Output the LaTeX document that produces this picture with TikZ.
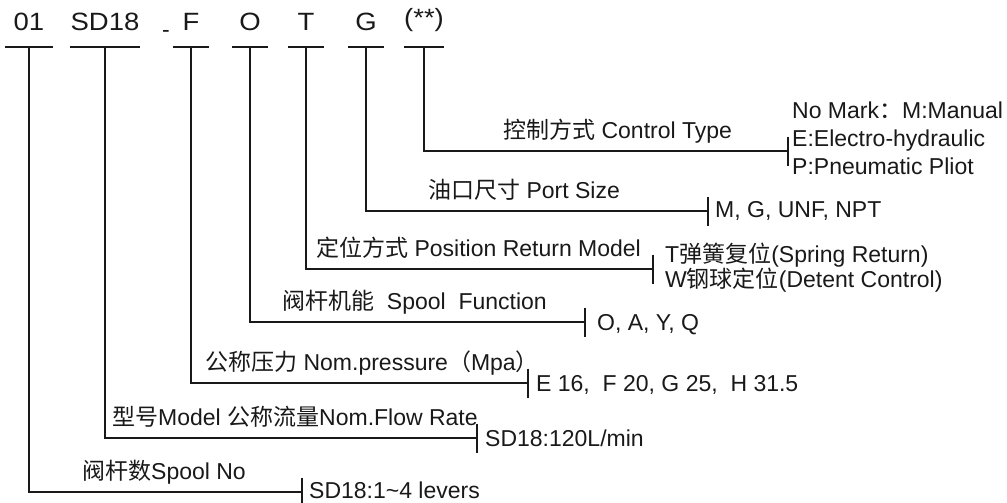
\documentclass[tikz,border=0pt]{standalone}
\usepackage{fontspec}
\setmainfont{Liberation Sans}
\newfontfamily\cjk{Noto Sans CJK SC}
\newfontfamily\codefont[FakeStretch=1.1]{Liberation Sans}

\begin{document}
\begin{tikzpicture}[x=1pt,y=-1pt,
    every node/.style={inner sep=0pt,text=black!90,font=\fontsize{23}{28}\selectfont},
    code/.style={anchor=south,text depth=16pt,minimum width=35pt,font=\codefont\fontsize{25}{30}\selectfont},
    lbl/.style={anchor=base west},
    opt/.style={anchor=west,align=left},
    link/.style={line width=1.5pt,black!90}
  ]
\useasboundingbox (0,0) rectangle (1007,503);
% model code
\node[code,minimum width=47pt] (c01) at (29,47) {01};
\node[code,minimum width=66pt] (cSD) at (105,47) {SD18};
\node[anchor=base] (cdash) at (166,38) {-};
\node[code] (cF) at (191,47) {F};
\node[code] (cO) at (250,47) {O};
\node[code] (cT) at (306,47) {T};
\node[code] (cG) at (366,47) {G};
\node[code,minimum width=36pt] (cX) at (424,47) {\raisebox{4pt}{(**)}};
\foreach \c in {c01,cSD,cF,cO,cT,cG,cX}
  \draw[link] (\c.south west) -- (\c.south east);
% line ends
\coordinate (tX) at (788,151);
\coordinate (tG) at (708,211);
\coordinate (tT) at (653,269);
\coordinate (tO) at (585,322);
\coordinate (tF) at (528,383);
\coordinate (tSD) at (477,438);
\coordinate (t01) at (302,492);
\foreach \c in {X,G,T,O,F,SD,01}{
  \draw[link] (c\c.south) |- (t\c);
  \draw[link] ([yshift=14.5pt]t\c) -- ([yshift=-14.5pt]t\c);
}
% labels
\node[lbl] (lX) at (503,138) {{\cjk 控制方式} Control Type};
\node[lbl] (lG) at (428,198) {{\cjk 油口尺寸} Port Size};
\node[lbl] (lT) at (316,256) {{\cjk 定位方式} Position Return Model};
\node[lbl] (lO) at (282,309) {{\cjk 阀杆机能}\ \ Spool\ \ Function};
\node[lbl] (lF) at (205,370) {{\cjk 公称压力} Nom.pressure{\cjk （}Mpa{\cjk ）}};
\node[lbl] (lSD) at (112,425) {{\cjk 型号}Model {\cjk 公称流量}Nom.Flow Rate};
\node[lbl] (l01) at (82,479) {{\cjk 阀杆数}Spool No};
% options
\node[opt] (oX) at (792,138) {No Mark{\cjk ：}M:Manual\\E:Electro-hydraulic\\P:Pneumatic Pliot};
\node[opt] (oG) at (715,211) {M, G, UNF, NPT};
\node[opt,font=\fontsize{23}{25}\selectfont] (oT) at (665,268) {T{\cjk 弹簧复位}(Spring Return)\\W{\cjk 钢球定位}(Detent Control)};
\node[opt] (oO) at (597,325) {O, A, Y, Q};
\node[opt] (oF) at (536,385) {E 16,\ \ F 20, G 25,\ \ H 31.5};
\node[opt] (oSD) at (485,438) {SD18:120L/min};
\node[opt] (o01) at (309,490) {SD18:1\textasciitilde4 levers};
\end{tikzpicture}
\end{document}
